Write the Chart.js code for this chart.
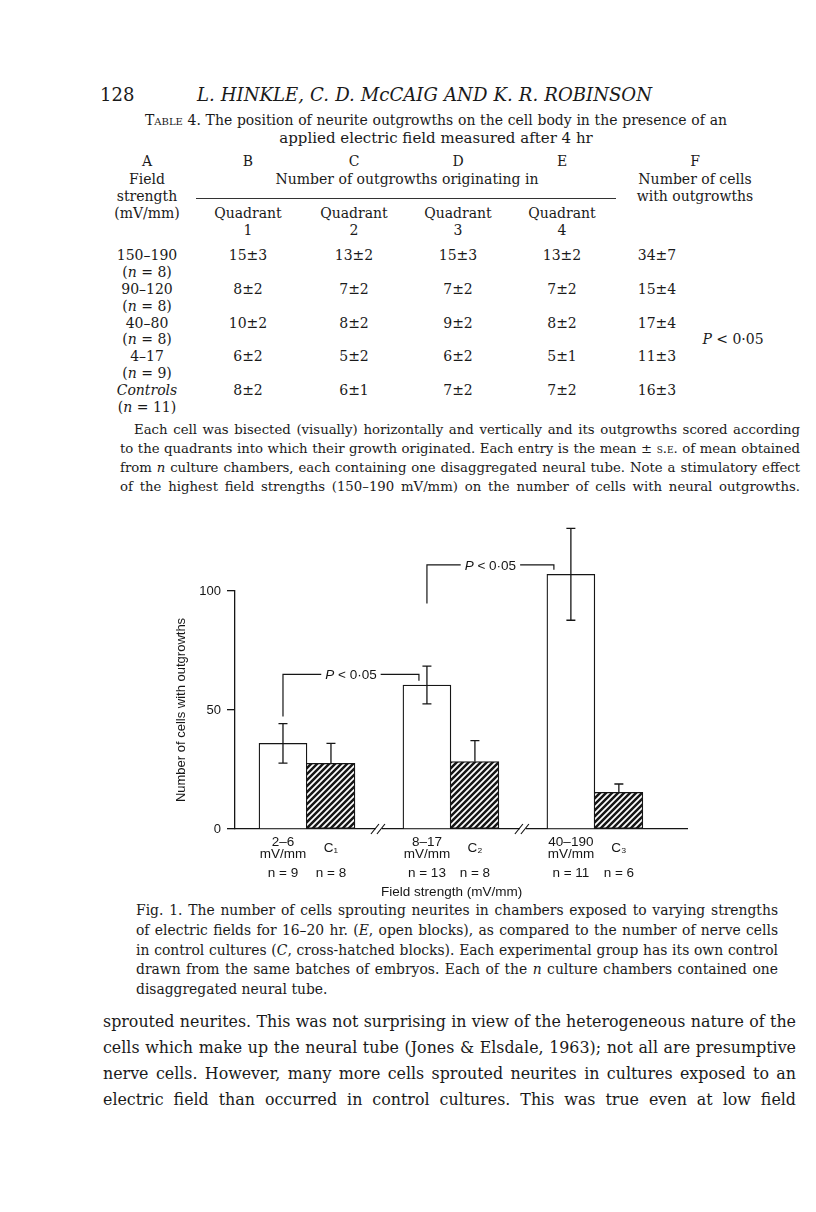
<!DOCTYPE html>
<html><head><meta charset="utf-8">
<script src="https://cdn.jsdelivr.net/npm/chart.js@4.4.1/dist/chart.umd.min.js"></script>
<style>
html,body{margin:0;padding:0;background:#fff;}
body{width:816px;height:1212px;position:relative;overflow:hidden;font-family:"DejaVu Serif",serif;color:#1a1a1a;}
.t{position:absolute;white-space:nowrap;line-height:1.2;}
.j{white-space:normal;text-align:justify;text-align-last:justify;}
.sc{font-variant:small-caps;}
i{font-style:italic;}
#chartBox{position:absolute;left:150px;top:505px;width:580px;height:397px;}
</style></head>
<body>
<div id="chartBox"><canvas id="c" width="580" height="397"></canvas></div>
<script>
// ---------------- data ----------------
const groupLabels = [['2–6', 'mV/mm'], ['8–17', 'mV/mm'], ['40–190', 'mV/mm']];
const controlLabels = ['C₁', 'C₂', 'C₃'];
const fieldMeans = [36, 60.5, 107];
const fieldSE = [8.3, 7.9, 19.3];
const controlMeans = [27.6, 28.3, 15.4];
const controlSE = [8.4, 8.8, 3.5];
const fieldN = [9, 13, 11];
const controlN = [8, 8, 6];
const yTicks = [0, 50, 100];

// table 4
const fieldRanges = ['150–190', '90–120', '40–80', '4–17', 'Controls'];
const chambers = [8, 8, 8, 9, 11];
const q1Mean = [15, 8, 10, 6, 8], q1SE = [3, 2, 2, 2, 2];
const q2Mean = [13, 7, 8, 5, 6], q2SE = [2, 2, 2, 2, 1];
const q3Mean = [15, 7, 9, 6, 7], q3SE = [3, 2, 2, 2, 2];
const q4Mean = [13, 7, 8, 5, 7], q4SE = [2, 2, 2, 1, 2];
const cellsMean = [34, 15, 17, 11, 16], cellsSE = [7, 4, 4, 3, 3];

// ---------------- page text ----------------
function put(html, x, y, size, opts) {
  opts = opts || {};
  const d = document.createElement('div');
  d.className = 't';
  d.innerHTML = html;
  d.style.fontSize = size + 'px';
  d.style.top = (y - size * 0.72) + 'px';
  if (opts.center) { d.style.left = (x - 200) + 'px'; d.style.width = '400px'; d.style.textAlign = 'center'; }
  else d.style.left = x + 'px';
  if (opts.italic) d.style.fontStyle = 'italic';
  document.body.appendChild(d);
  return d;
}
function block(lines, x, w, ys, size, opts) {
  opts = opts || {};
  const ind = i => (opts.indent && i === 0 ? opts.indent : 0);
  const els = lines.map((h, i) => put(h, x + ind(i), ys[i], size, opts));
  let ratio = 1;
  els.forEach((d, i) => {
    const nat = d.getBoundingClientRect().width;
    const target = w - ind(i);
    if (nat > target) ratio = Math.min(ratio, target / nat);
  });
  ratio *= 0.995;
  els.forEach((d, i) => {
    const fs = size * ratio;
    d.style.fontSize = fs + 'px';
    d.style.top = (ys[i] - fs * 0.72) + 'px';
    if (!(opts.lastFree && i === lines.length - 1)) {
      d.style.width = (w - ind(i)) + 'px';
      d.classList.add('j');
    }
  });
}

put('128', 100, 97, 18);
block(['L. HINKLE, C. D. McCAIG AND K. R. ROBINSON'], 197, 455, [97], 18.5, {italic: true});

block(['<span class="sc">Table</span> 4. The position of neurite outgrowths on the cell body in the presence of an'], 145, 582, [122], 15);
put('applied electric field measured after 4 hr', 436, 140, 15, {center: true});

const TF = 14;
const colA = 147, colQ = [248, 354, 458, 562], colF = 657, colFh = 695;
['A', 'B', 'C', 'D', 'E'].forEach((l, i) => put(l, i === 0 ? colA : colQ[i - 1], 163, TF, {center: true}));
put('F', colFh, 163, TF, {center: true});
put('Field', colA, 181, TF, {center: true});
put('strength', colA, 198, TF, {center: true});
put('(mV/mm)', colA, 215, TF, {center: true});
put('Number of outgrowths originating in', 407, 181, TF, {center: true});
put('Number of cells', colFh, 181, TF, {center: true});
put('with outgrowths', colFh, 198, TF, {center: true});
const rule = document.createElement('div');
rule.style.cssText = 'position:absolute;left:196px;width:420px;top:198px;height:0;border-top:1px solid #333;';
document.body.appendChild(rule);
colQ.forEach((x, i) => { put('Quadrant', x, 215, TF, {center: true}); put(String(i + 1), x, 232, TF, {center: true}); });

const rowY0 = 257, rowStep = 16.9;
const qCols = [[q1Mean, q1SE], [q2Mean, q2SE], [q3Mean, q3SE], [q4Mean, q4SE]];
fieldRanges.forEach((r, k) => {
  const y = rowY0 + rowStep * 2 * k;
  put(r === 'Controls' ? '<i>Controls</i>' : r, colA, y, TF, {center: true});
  put('(<i>n</i> = ' + chambers[k] + ')', colA, y + rowStep, TF, {center: true});
  qCols.forEach((q, i) => put(q[0][k] + '±' + q[1][k], colQ[i], y, TF, {center: true}));
  put(cellsMean[k] + '±' + cellsSE[k], colF, y, TF, {center: true});
});
put('<i>P</i> &lt; 0·05', 733, rowY0 + rowStep * 5, TF, {center: true});

block([
  'Each cell was bisected (visually) horizontally and vertically and its outgrowths scored according',
  'to the quadrants into which their growth originated. Each entry is the mean ± <span class="sc">s.e.</span> of mean obtained',
  'from <i>n</i> culture chambers, each containing one disaggregated neural tube. Note a stimulatory effect',
  'of the highest field strengths (150–190 mV/mm) on the number of cells with neural outgrowths.'
], 120, 680, [432, 451, 470, 489], 15, {indent: 14});

block([
  'Fig. 1. The number of cells sprouting neurites in chambers exposed to varying strengths',
  'of electric fields for 16–20 hr. (<i>E</i>, open blocks), as compared to the number of nerve cells',
  'in control cultures (<i>C</i>, cross-hatched blocks). Each experimental group has its own control',
  'drawn from the same batches of embryos. Each of the <i>n</i> culture chambers contained one',
  'disaggregated neural tube.'
], 136, 642, [912, 932, 952, 971, 991], 15, {lastFree: true});

block([
  'sprouted neurites. This was not surprising in view of the heterogeneous nature of the',
  'cells which make up the neural tube (Jones &amp; Elsdale, 1963); not all are presumptive',
  'nerve cells. However, many more cells sprouted neurites in cultures exposed to an',
  'electric field than occurred in control cultures. This was true even at low field'
], 103, 693, [1023, 1049, 1075, 1101], 19);

// ---------------- chart ----------------
const FONT = '"Liberation Sans", Arial, sans-serif';
const INK = '#161616';
const slotOfField = g => 1 + 3 * g;
const slotOfControl = g => 2 + 3 * g;
const slotLabels = {}, nLabels = {};
groupLabels.forEach((l, g) => {
  slotLabels[slotOfField(g)] = l;
  slotLabels[slotOfControl(g)] = controlLabels[g];
  nLabels[slotOfField(g)] = 'n = ' + fieldN[g];
  nLabels[slotOfControl(g)] = 'n = ' + controlN[g];
});
const breakSlots = groupLabels.slice(1).map((_, g) => 3 + 3 * g);
const X_MAX = 9.42;

function hatchPattern() {
  const p = 6, c = document.createElement('canvas');
  c.width = p; c.height = p;
  const g = c.getContext('2d');
  g.fillStyle = '#fff'; g.fillRect(0, 0, p, p);
  g.strokeStyle = INK; g.lineWidth = 2.5;
  g.beginPath();
  g.moveTo(0, p); g.lineTo(p, 0);
  g.moveTo(-1, 1); g.lineTo(1, -1);
  g.moveTo(p - 1, p + 1); g.lineTo(p + 1, p - 1);
  g.stroke();
  return document.createElement('canvas').getContext('2d').createPattern(c, 'repeat');
}

const errorBars = {
  id: 'errorBars',
  afterDatasetsDraw(chart) {
    const ctx = chart.ctx, y = chart.scales.y;
    const sets = [[0, fieldMeans, fieldSE, true], [1, controlMeans, controlSE, false]];
    ctx.save();
    ctx.strokeStyle = INK; ctx.lineWidth = 1.3;
    sets.forEach(([di, means, se, both]) => {
      chart.getDatasetMeta(di).data.forEach((bar, k) => {
        const x = bar.x, top = y.getPixelForValue(means[k] + se[k]);
        const bot = both ? y.getPixelForValue(means[k] - se[k]) : y.getPixelForValue(means[k]);
        ctx.beginPath();
        ctx.moveTo(x, top); ctx.lineTo(x, bot);
        ctx.moveTo(x - 4.5, top); ctx.lineTo(x + 4.5, top);
        if (both) { ctx.moveTo(x - 4.5, bot); ctx.lineTo(x + 4.5, bot); }
        ctx.stroke();
      });
    });
    ctx.restore();
  }
};

const annotations = {
  id: 'annotations',
  afterDraw(chart, args, opts) {
    const ctx = chart.ctx, xs = chart.scales.x, y = chart.scales.y;
    const base = y.getPixelForValue(0);
    ctx.save();
    ctx.strokeStyle = INK; ctx.fillStyle = INK; ctx.lineWidth = 1.2;
    // axis breaks
    breakSlots.forEach(s => {
      const cx = xs.getPixelForValue(s);
      ctx.save();
      ctx.fillStyle = '#fff';
      ctx.fillRect(cx - 3, base - 2, 6, 4);
      ctx.restore();
      ctx.beginPath();
      ctx.moveTo(cx - 8, base + 5); ctx.lineTo(cx, base - 5);
      ctx.moveTo(cx - 2, base + 5); ctx.lineTo(cx + 6, base - 5);
      ctx.stroke();
    });
    // significance brackets
    const meta = chart.getDatasetMeta(0).data;
    opts.brackets.forEach(b => {
      const x1 = meta[b.from].x;
      const x2 = meta[b.to].x - meta[b.to].width / 2 + b.rightInset;
      const yl = y.getPixelForValue(b.level);
      const y1 = y.getPixelForValue(b.leftBottom);
      const y2 = y.getPixelForValue(b.rightBottom);
      const rest = ' < 0·05';
      ctx.font = 'italic 13.5px ' + FONT;
      const wP = ctx.measureText('P').width;
      ctx.font = '13.5px ' + FONT;
      const wR = ctx.measureText(rest).width;
      const tw = wP + wR;
      const mid = (x1 + x2) / 2;
      const tx = mid - tw / 2;
      ctx.beginPath();
      ctx.moveTo(x1, y1); ctx.lineTo(x1, yl); ctx.lineTo(tx - 4, yl);
      ctx.moveTo(tx + tw + 4, yl); ctx.lineTo(x2, yl); ctx.lineTo(x2, y2);
      ctx.stroke();
      ctx.textBaseline = 'middle'; ctx.textAlign = 'left';
      ctx.font = 'italic 13.5px ' + FONT;
      ctx.fillText('P', tx, yl + 1);
      ctx.font = '13.5px ' + FONT;
      ctx.fillText(rest, tx + wP, yl + 1);
    });
    ctx.restore();
  }
};

const xTickFont = {family: FONT, size: 13.5, lineHeight: 0.93};

new Chart(document.getElementById('c'), {
  type: 'bar',
  data: {
    datasets: [
      {
        label: 'E',
        data: fieldMeans.map((v, g) => ({x: slotOfField(g), y: v})),
        backgroundColor: '#fff', borderColor: INK, borderWidth: 1.3,
        borderSkipped: 'bottom', grouped: false,
        barPercentage: 1, categoryPercentage: 1, clip: false
      },
      {
        label: 'C',
        data: controlMeans.map((v, g) => ({x: slotOfControl(g), y: v})),
        backgroundColor: hatchPattern(), borderColor: INK, borderWidth: 1.3,
        borderSkipped: 'left', grouped: false,
        barPercentage: 1, categoryPercentage: 1, clip: false
      }
    ]
  },
  options: {
    responsive: false, animation: false, devicePixelRatio: 1,
    layout: {padding: {left: 0, top: 86, right: 43, bottom: 0}},
    plugins: {
      legend: {display: false}, tooltip: {enabled: false},
      annotations: {
        brackets: [
          {from: 0, to: 1, level: 65, leftBottom: 47.3, rightBottom: 62.3, rightInset: 16},
          {from: 1, to: 2, level: 111, leftBottom: 94.8, rightBottom: 108.9, rightInset: 7}
        ]
      }
    },
    scales: {
      x: {
        type: 'linear', position: 'bottom', min: 0, max: X_MAX, offset: false, weight: 0,
        grid: {display: false, drawTicks: false},
        border: {display: true, color: INK, width: 1.3},
        ticks: {
          stepSize: 1, includeBounds: false, autoSkip: false, maxRotation: 0, minRotation: 0,
          crossAlign: 'center', padding: 13, color: INK, font: xTickFont,
          callback: v => slotLabels[v] || ''
        },
        afterFit: s => { s.height = 34; }
      },
      x2: {
        type: 'linear', position: 'bottom', min: 0, max: X_MAX, offset: false, weight: 1,
        grid: {display: false, drawTicks: false},
        border: {display: false},
        ticks: {
          stepSize: 1, includeBounds: false, autoSkip: false, maxRotation: 0, minRotation: 0,
          padding: 2, color: INK, font: {family: FONT, size: 13.5, lineHeight: 1.2},
          callback: v => nLabels[v] || ''
        },
        title: {
          display: true, text: 'Field strength (mV/mm)' + '\u00a0\u00a0\u00a0\u00a0\u00a0', color: INK,
          font: {family: FONT, size: 13.5, lineHeight: 1.2}, padding: {top: 0, bottom: 2}
        },
        afterFit: s => { s.height = 39; }
      },
      y: {
        min: 0, max: 100,
        afterBuildTicks: s => { s.ticks = yTicks.map(v => ({value: v})); },
        grid: {display: true, drawOnChartArea: false, drawTicks: true, tickLength: 8, color: INK, lineWidth: 1.3},
        border: {display: true, color: INK, width: 1.3},
        ticks: {padding: 6, color: INK, font: {family: FONT, size: 13}},
        title: {
          display: true, text: 'Number of cells with outgrowths', color: INK,
          font: {family: FONT, size: 13, lineHeight: 1.2}, padding: {top: 24, bottom: 0}
        },
        afterFit: s => { s.width = 85; }
      }
    }
  },
  plugins: [errorBars, annotations]
});
</script>
</body></html>
